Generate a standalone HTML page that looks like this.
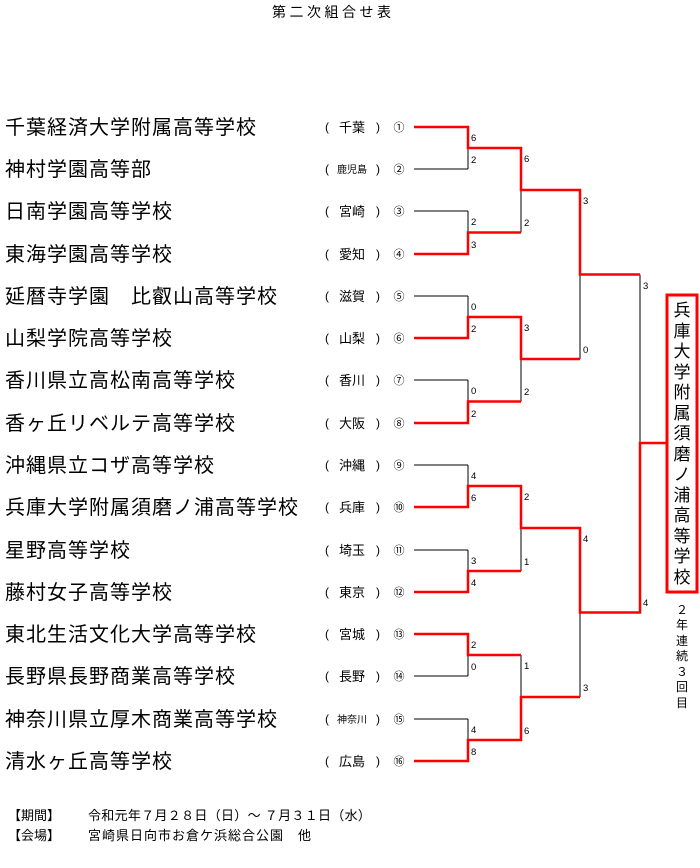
<!DOCTYPE html>
<html><head><meta charset="utf-8"><style>
html,body{margin:0;padding:0;background:#fff;}
svg{display:block;font-family:"Liberation Sans","Noto Sans CJK JP",sans-serif;}
</style></head><body>
<svg width="700" height="868" viewBox="0 0 700 868" xmlns="http://www.w3.org/2000/svg">
<text x="272" y="17" font-size="14" letter-spacing="3.5">第二次組合せ表</text>
<g font-size="20" letter-spacing="1">
<text x="5" y="134">千葉経済大学附属高等学校</text>
<text x="5" y="176">神村学園高等部</text>
<text x="5" y="218">日南学園高等学校</text>
<text x="5" y="261">東海学園高等学校</text>
<text x="5" y="303">延暦寺学園　比叡山高等学校</text>
<text x="5" y="345">山梨学院高等学校</text>
<text x="5" y="387">香川県立高松南高等学校</text>
<text x="5" y="430">香ヶ丘リベルテ高等学校</text>
<text x="5" y="472">沖縄県立コザ高等学校</text>
<text x="5" y="514">兵庫大学附属須磨ノ浦高等学校</text>
<text x="5" y="557">星野高等学校</text>
<text x="5" y="599">藤村女子高等学校</text>
<text x="5" y="641">東北生活文化大学高等学校</text>
<text x="5" y="683">長野県長野商業高等学校</text>
<text x="5" y="726">神奈川県立厚木商業高等学校</text>
<text x="5" y="768">清水ヶ丘高等学校</text>
</g>
<g font-size="12">
<g text-anchor="middle">
<text x="327" y="131">(</text><text x="378" y="131">)</text>
<text x="327" y="173">(</text><text x="378" y="173">)</text>
<text x="327" y="215">(</text><text x="378" y="215">)</text>
<text x="327" y="258">(</text><text x="378" y="258">)</text>
<text x="327" y="300">(</text><text x="378" y="300">)</text>
<text x="327" y="342">(</text><text x="378" y="342">)</text>
<text x="327" y="384">(</text><text x="378" y="384">)</text>
<text x="327" y="427">(</text><text x="378" y="427">)</text>
<text x="327" y="469">(</text><text x="378" y="469">)</text>
<text x="327" y="511">(</text><text x="378" y="511">)</text>
<text x="327" y="554">(</text><text x="378" y="554">)</text>
<text x="327" y="596">(</text><text x="378" y="596">)</text>
<text x="327" y="638">(</text><text x="378" y="638">)</text>
<text x="327" y="680">(</text><text x="378" y="680">)</text>
<text x="327" y="723">(</text><text x="378" y="723">)</text>
<text x="327" y="765">(</text><text x="378" y="765">)</text>
<g font-size="13">
<text x="352" y="132">千葉</text>
<text x="352" y="216">宮崎</text>
<text x="352" y="259">愛知</text>
<text x="352" y="301">滋賀</text>
<text x="352" y="343">山梨</text>
<text x="352" y="385">香川</text>
<text x="352" y="428">大阪</text>
<text x="352" y="470">沖縄</text>
<text x="352" y="512">兵庫</text>
<text x="352" y="555">埼玉</text>
<text x="352" y="597">東京</text>
<text x="352" y="639">宮城</text>
<text x="352" y="681">長野</text>
<text x="352" y="766">広島</text>
</g>
<g font-size="10">
<text x="352" y="173">鹿児島</text>
<text x="352" y="723">神奈川</text>
</g>
<g font-size="11">
<text x="399" y="131">①</text><text x="399" y="173">②</text><text x="399" y="215">③</text><text x="399" y="258">④</text>
<text x="399" y="300">⑤</text><text x="399" y="342">⑥</text><text x="399" y="384">⑦</text><text x="399" y="427">⑧</text>
<text x="399" y="469">⑨</text><text x="399" y="511">⑩</text><text x="399" y="554">⑪</text><text x="399" y="596">⑫</text>
<text x="399" y="638">⑬</text><text x="399" y="680">⑭</text><text x="399" y="723">⑮</text><text x="399" y="765">⑯</text>
</g>
</g>
</g>
<g stroke="#000" stroke-width="1" fill="none">
<path d="M414 169H468M414 211H468M414 296H468M414 380H468M414 465H468M414 550H468M414 676H468M414 719H468"/>
<path d="M468 127V169M468 211V254M468 296V338M468 380V423M468 465V507M468 550V592M468 634V676M468 719V761"/>
<path d="M521 148V232.5M521 317V401.5M521 486V571M521 655V740"/>
<path d="M580 190V359M580 528V697M640 274.5V612.5"/>
</g>
<g stroke="#f00" stroke-width="2.5" fill="none">
<path d="M414 127H468V148H521V190H580V274.5H640"/>
<path d="M414 254H468V232.5H521"/>
<path d="M414 338H468V317H521V359H580"/>
<path d="M414 423H468V401.5H521"/>
<path d="M414 507H468V486H521V528H580V612.5H640V443H667"/>
<path d="M414 592H468V571H521"/>
<path d="M414 634H468V655H521"/>
<path d="M414 761H468V740H521V697H580"/>
</g>
<g font-size="9.5">
<text x="471" y="141">6</text><text x="471" y="163">2</text>
<text x="471" y="225">2</text><text x="471" y="248">3</text>
<text x="471" y="310">0</text><text x="471" y="332">2</text>
<text x="471" y="394">0</text><text x="471" y="417">2</text>
<text x="471" y="479">4</text><text x="471" y="501">6</text>
<text x="471" y="564">3</text><text x="471" y="586">4</text>
<text x="471" y="648">2</text><text x="471" y="670">0</text>
<text x="471" y="733">4</text><text x="471" y="755">8</text>
<text x="524" y="162">6</text><text x="524" y="226">2</text>
<text x="524" y="331">3</text><text x="524" y="395">2</text>
<text x="524" y="500">2</text><text x="524" y="565">1</text>
<text x="524" y="669">1</text><text x="524" y="734">6</text>
<text x="583" y="204">3</text><text x="583" y="353">0</text>
<text x="583" y="542">4</text><text x="583" y="691">3</text>
<text x="643" y="289">3</text><text x="643" y="606">4</text>
</g>
<rect x="667" y="295" width="30" height="297" fill="none" stroke="#f00" stroke-width="3"/>
<g font-size="17" text-anchor="middle">
<text x="682" y="316">兵</text><text x="682" y="337">庫</text><text x="682" y="357">大</text><text x="682" y="378">学</text>
<text x="682" y="398">附</text><text x="682" y="419">属</text><text x="682" y="439">須</text><text x="682" y="460">磨</text>
<text x="682" y="480">ノ</text><text x="682" y="501">浦</text><text x="682" y="521">高</text><text x="682" y="542">等</text>
<text x="682" y="562">学</text><text x="682" y="583">校</text>
</g>
<g font-size="12" text-anchor="middle">
<text x="682" y="614">２</text><text x="682" y="629">年</text><text x="682" y="645">連</text><text x="682" y="660">続</text>
<text x="682" y="676">３</text><text x="682" y="691">回</text><text x="682" y="707">目</text>
</g>
<g font-size="13">
<text x="8" y="820">【期間】</text>
<text x="88" y="820" letter-spacing="0.3">令和元年７月２８日（日）～ ７月３１日（水）</text>
<text x="8" y="840">【会場】</text>
<text x="88" y="840" letter-spacing="1">宮崎県日向市お倉ケ浜総合公園　他</text>
</g>
</svg>
</body></html>
